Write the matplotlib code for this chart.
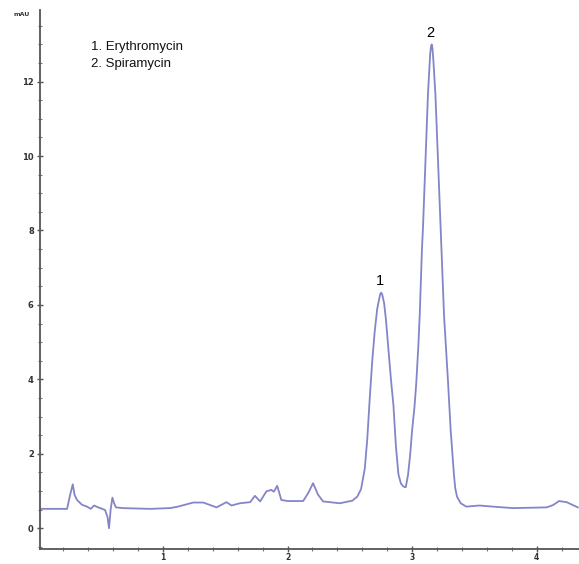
import numpy as np
import matplotlib.pyplot as plt
from matplotlib.ticker import MultipleLocator

# Chromatogram trace (time in min, absorbance in mAU)
time = [0.013, 0.23, 0.255, 0.276, 0.29, 0.31, 0.35, 0.39, 0.42, 0.447, 0.48,
        0.535, 0.555, 0.567, 0.58, 0.594, 0.61, 0.623, 0.68, 0.896, 1.056,
        1.12, 1.243, 1.323, 1.43, 1.51, 1.55, 1.617, 1.70, 1.738, 1.78, 1.83,
        1.87, 1.89, 1.917, 1.95, 2.0, 2.125, 2.165, 2.205, 2.245, 2.285, 2.42,
        2.52, 2.56, 2.59, 2.62, 2.64, 2.66, 2.68, 2.70, 2.72, 2.735, 2.745,
        2.752, 2.76, 2.775, 2.79, 2.81, 2.83, 2.85, 2.87, 2.89, 2.91, 2.93,
        2.949, 2.967, 2.985, 2.999, 3.02, 3.034, 3.05, 3.061, 3.079, 3.087,
        3.107, 3.127, 3.145, 3.152, 3.157, 3.163, 3.17, 3.187, 3.208, 3.229,
        3.256, 3.288, 3.31, 3.336, 3.346, 3.36, 3.39, 3.435, 3.54, 3.65, 3.81,
        4.08, 4.13, 4.18, 4.24, 4.33]
signal = [0.52, 0.52, 0.9, 1.18, 0.9, 0.76, 0.63, 0.58, 0.52, 0.61, 0.56,
          0.49, 0.3, 0.0, 0.5, 0.82, 0.65, 0.56, 0.54, 0.52, 0.54,
          0.58, 0.69, 0.69, 0.56, 0.70, 0.61, 0.67, 0.70, 0.87, 0.72, 0.99,
          1.03, 0.98, 1.14, 0.76, 0.73, 0.73, 0.94, 1.21, 0.90, 0.72, 0.67,
          0.74, 0.85, 1.05, 1.6, 2.4, 3.5, 4.5, 5.3, 5.9, 6.15, 6.3,
          6.33, 6.28, 6.05, 5.6, 4.8, 4.0, 3.3, 2.2, 1.45, 1.2, 1.12,
          1.1, 1.43, 2.0, 2.6, 3.3, 3.94, 4.9, 5.73, 7.5, 8.06,
          9.86, 11.65, 12.75, 12.95, 13.0, 12.9, 12.6, 11.65, 9.86, 8.06,
          5.73, 3.94, 2.6, 1.43, 1.08, 0.85, 0.67, 0.58, 0.61, 0.58, 0.54,
          0.56, 0.62, 0.73, 0.70, 0.56]

peak_labels = ['1', '2']
peak_times = [2.745, 3.15]
peak_heights = [6.64, 13.3]
compounds = ['1. Erythromycin', '2. Spiramycin']

fig = plt.figure(figsize=(5.79, 5.64), dpi=100)
ax = fig.add_axes([0.0691, 0.0265, 0.931, 0.9555])

ax.plot(time, signal, color='#8385c8', linewidth=1.3)

# peak numbers
for lab, t, h in zip(peak_labels, peak_times, peak_heights):
    ax.text(t, h, lab, ha='center', va='center', fontsize=10.5,
            family='Liberation Sans', color='black')

# compound list
for i, name in enumerate(compounds):
    fig.text(0.158, 0.917 - i * 0.030, name, ha='left', va='center',
             fontsize=9.5, family='Liberation Sans', color='#111111')

fig.text(0.038, 0.975, 'mAU', ha='center', va='center', fontsize=4.5,
         fontweight='bold', color='#333333')

ax.set_xlim(0.013, 4.34)
ax.set_ylim(-0.56, 13.92)

ax.xaxis.set_major_locator(MultipleLocator(1))
ax.xaxis.set_minor_locator(MultipleLocator(0.2))
ax.yaxis.set_major_locator(MultipleLocator(2))
ax.yaxis.set_minor_locator(MultipleLocator(0.5))

for s in ['top', 'right']:
    ax.spines[s].set_visible(False)
for s in ['left', 'bottom']:
    ax.spines[s].set_color('#555555')
    ax.spines[s].set_linewidth(1.3)

ax.tick_params(which='major', direction='inout', length=4, width=1,
               color='#555555', labelsize=6, pad=2.5, labelcolor='#333333')
ax.tick_params(axis='x', which='major', pad=0.5, labelsize=5.5)
ax.tick_params(which='minor', direction='inout', length=2.5, width=0.8,
               color='#777777')
for lbl in ax.get_xticklabels() + ax.get_yticklabels():
    lbl.set_fontweight('bold')

plt.savefig('out.png', dpi=100)
